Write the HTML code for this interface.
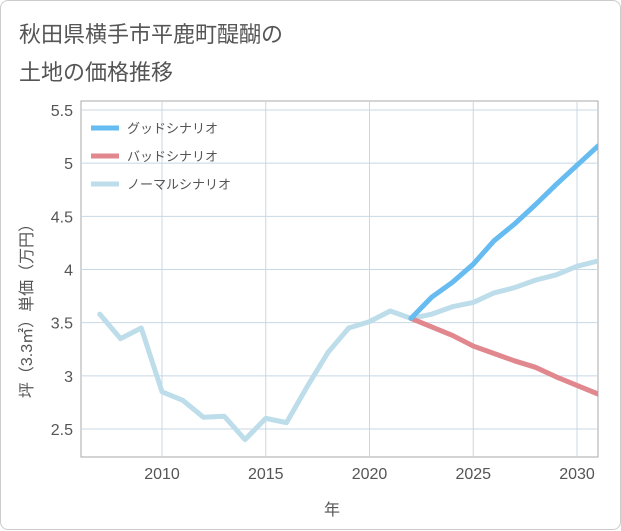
<!DOCTYPE html>
<html><head><meta charset="utf-8"><style>
body{margin:0;background:#fff;font-family:"Liberation Sans","Noto Sans CJK JP",sans-serif;}
#card{position:absolute;left:0;top:0;width:619px;height:528px;border:1px solid #ccc;border-radius:8px;background:#fff;}
.title{position:absolute;left:18px;font-size:22px;color:#555;}
</style></head><body>
<div id="card">
<div class="title" style="top:16px">秋田県横手市平鹿町醍醐の</div>
<div class="title" style="top:54px">土地の価格推移</div>
<svg id="chart" width="621" height="530" style="position:absolute;left:0;top:0"></svg>
</div>
<script>
const years=[2007,2008,2009,2010,2011,2012,2013,2014,2015,2016,2017,2018,2019,2020,2021,2022,2023,2024,2025,2026,2027,2028,2029,2030,2031];
const normalVals=[3.58,3.35,3.45,2.85,2.77,2.61,2.62,2.40,2.60,2.56,2.90,3.22,3.45,3.51,3.61,3.54,3.58,3.65,3.69,3.78,3.83,3.90,3.95,4.03,4.08];
const futureYears=[2022,2023,2024,2025,2026,2027,2028,2029,2030,2031];
const goodVals=[3.54,3.74,3.88,4.05,4.27,4.43,4.61,4.80,4.98,5.16];
const badVals=[3.54,3.46,3.38,3.28,3.21,3.14,3.08,2.99,2.91,2.83];
const yTicks=[2.5,3,3.5,4,4.5,5,5.5];
const xTicks=[2010,2015,2020,2025,2030];
const NS='http://www.w3.org/2000/svg';
const svg=document.getElementById('chart');
const L=80,R=597,T=100,B=456;
const x=v=>161+(v-2010)*(576-161)/20;
const y=v=>428-(v-2.5)*(428-109)/3;
function mk(t,a,p){const e=document.createElementNS(NS,t);for(const k in a)e.setAttribute(k,a[k]);(p||svg).appendChild(e);return e;}
const bg=mk('rect',{x:L,y:T,width:R-L,height:B-T,fill:'#fff',stroke:'#aaa'});


yTicks.forEach(v=>{
 const g=mk('line',{x1:L,x2:R,y1:y(v),y2:y(v),stroke:'#c8d8e4'});
 
 
 const t=mk('text',{x:72,y:y(v)+6,'text-anchor':'end','font-size':16,fill:'#555'});
 t.textContent=v;
 
 
});
xTicks.forEach(v=>{
 const g=mk('line',{x1:x(v),x2:x(v),y1:T,y2:B,stroke:'#c8d8e4'});
 
 
 const t=mk('text',{x:x(v),y:478,'text-anchor':'middle','font-size':16,fill:'#555'});
 t.textContent=v;
 
 
});
function line(xs,vs,col,name){
 const p=mk('polyline',{points:xs.map((yr,i)=>x(yr)+','+y(vs[i])).join(' '),fill:'none',stroke:col,'stroke-width':5,'stroke-linejoin':'round','stroke-linecap':'round'});
 
 
}
const clip=mk('clipPath',{id:'c'});mk('rect',{x:L,y:T,width:R-L,height:B-T},clip);
line(years,normalVals,'#bcdde9','normal-scenario-line');
line(futureYears,badVals,'#e0888e','bad-scenario-line');
line(futureYears,goodVals,'#66bbf0','good-scenario-line');
svg.querySelectorAll('polyline').forEach(p=>p.setAttribute('clip-path','url(#c)'));
const leg=[['グッドシナリオ','#66bbf0'],['バッドシナリオ','#e0888e'],['ノーマルシナリオ','#bcdde9']];
leg.forEach((l,i)=>{
 const yy=127+i*28;
 const s=mk('line',{x1:90,x2:118,y1:yy,y2:yy,stroke:l[1],'stroke-width':5});
 
 
 const t=mk('text',{x:126,y:yy+5,'font-size':13,fill:'#555'});
 t.textContent=l[0];
 
 
});
const xt=mk('text',{x:331,y:514,'text-anchor':'middle','font-size':16,fill:'#555'});
xt.textContent='年';


const yt=mk('text',{x:0,y:0,'text-anchor':'middle','font-size':16,fill:'#555',transform:'translate(31,306) rotate(-90)'});
yt.textContent='坪（3.3㎡）単価（万円）';


</script>
</body></html>
